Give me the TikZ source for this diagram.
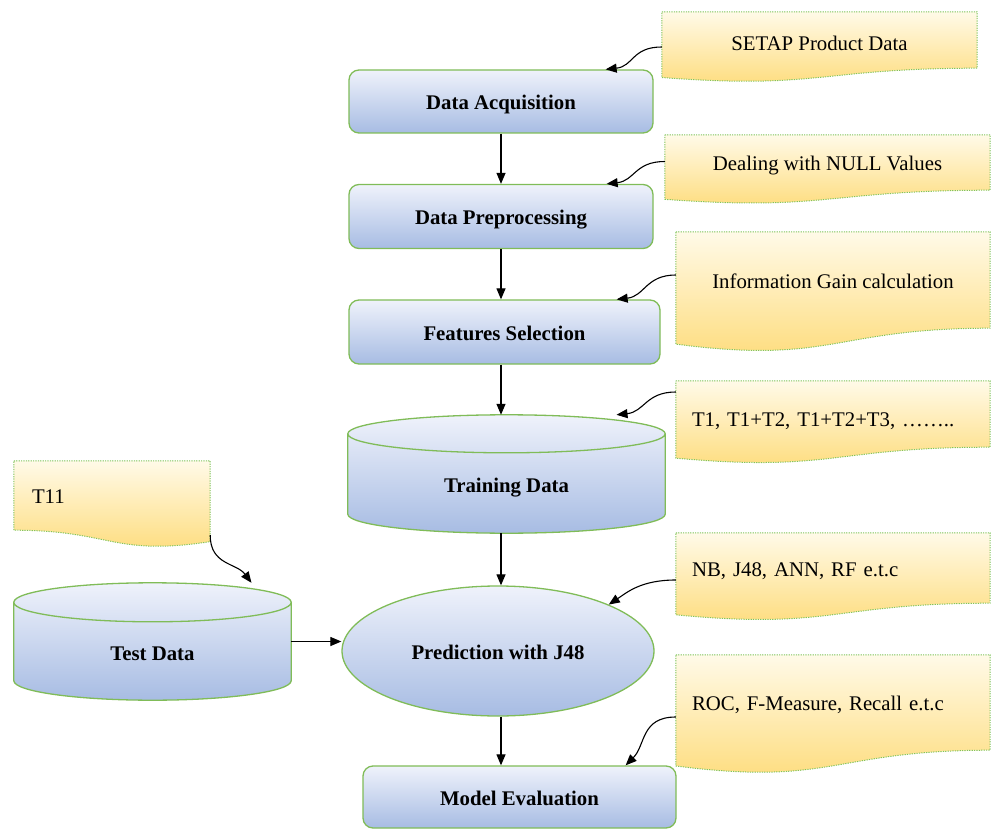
\documentclass[tikz,border=0pt]{standalone}
\usepackage{fontspec}
\setmainfont{Liberation Serif}
\usetikzlibrary{positioning}
\usetikzlibrary{shapes.geometric}
\usetikzlibrary{arrows.meta}
\usetikzlibrary{calc}
\usetikzlibrary{backgrounds}
\definecolor{boxtop}{RGB}{239,242,251}
\definecolor{boxbot}{RGB}{167,188,227}
\definecolor{boxline}{RGB}{128,188,88}
\definecolor{doctop}{RGB}{255,250,232}
\definecolor{docbot}{RGB}{254,219,120}
\definecolor{docline}{RGB}{128,196,92}
\newcommand{\nodefont}{\fontsize{20.8pt}{25pt}\selectfont}
\tikzset{
  procbox/.style={rectangle, rounded corners=10pt, draw=boxline, line width=1.3pt,
    top color=boxtop, bottom color=boxbot, font=\nodefont\bfseries, inner sep=0pt,
    text height=21pt, text depth=4.5pt},
  datastore/.style={rectangle, font=\nodefont\bfseries, inner sep=0pt,
    text height=40.5pt, text depth=4.5pt},
  drumshape/.style={draw=boxline, line width=1.3pt, top color=boxtop, bottom color=boxbot},
  docnote/.style={rectangle, inner sep=0pt, align=center, font=\nodefont,
    text height=21pt, text depth=4.5pt},
  docshape/.style={draw=docline, line width=1pt, dash pattern=on 1.2pt off 1.2pt,
    top color=doctop, bottom color=docbot},
  flowline/.style={->, line width=1.2pt},
  curveline/.style={->, line width=1.1pt},
}
\newcommand{\docwave}[1]{%
  \begin{pgfonlayer}{background}
  \path[docshape] let \p1=(#1.north west), \p2=(#1.south east), \n1={\y1-\y2} in
    (\p1) -- (\x2,\y1) -- (\p2)
    .. controls ({(\x1+\x2)/2},\y2) and ({(\x1+\x2)/2},{\y2-0.38*\n1})
    .. (\x1,{\y2-0.165*\n1}) -- cycle;
  \end{pgfonlayer}}
\newcommand{\docwaveflip}[1]{%
  \begin{pgfonlayer}{background}
  \path[docshape] let \p1=(#1.north west), \p2=(#1.south east), \n1={\y1-\y2} in
    (\p1) -- (\x2,\y1) -- (\x2,{\y2-0.165*\n1})
    .. controls ({(\x1+\x2)/2},{\y2-0.38*\n1}) and ({(\x1+\x2)/2},\y2)
    .. (\x1,\y2) -- cycle;
  \end{pgfonlayer}}
\newcommand{\drum}[2]{%
  \begin{pgfonlayer}{background}
  \path[drumshape] let \p1=(#1.north west), \p2=(#1.south east), \n1={(\x2-\x1)/2} in
    (\x1,{\y1-#2pt}) -- (\x1,{\y2+#2pt})
    arc[start angle=180, end angle=360, x radius=\n1, y radius=#2pt]
    -- (\x2,{\y1-#2pt})
    arc[start angle=0, end angle=180, x radius=\n1, y radius=#2pt] -- cycle
    ({\x1+\n1},{\y1-#2pt}) ellipse [x radius=\n1, y radius=#2pt];
  \end{pgfonlayer}}

\begin{document}
\begin{tikzpicture}[x=1pt, y=-1pt, >={Triangle[length=11pt,width=9pt]}]
  \useasboundingbox (0,0) rectangle (991,829);

  \node (da) [procbox, minimum width=304pt, minimum height=63pt] at (501,101.5) {Data Acquisition};
  \node (dp) [procbox, minimum width=304pt, minimum height=64pt] at (501,216.5) {Data Preprocessing};
  \node (fs) [procbox, minimum width=311pt, minimum height=64pt] at (504.5,332) {Features Selection};
  \node (td) [datastore, minimum width=317pt, minimum height=118pt] at (506.5,474) {Training Data};
  \node (test) [datastore, text height=41.5pt, minimum width=277pt, minimum height=117pt] at (152.5,641.5) {Test Data};
  \node (pred) [ellipse, draw=boxline, line width=1.3pt, top color=boxtop, bottom color=boxbot,
    font=\nodefont\bfseries, text height=21pt, text depth=4.5pt, inner sep=0pt,
    minimum width=312pt, minimum height=130pt] at (498,651) {Prediction with J48};
  \node (me) [procbox, minimum width=313pt, minimum height=62pt] at (519.5,797) {Model Evaluation};

  \node (setap) [docnote, text height=25pt, minimum width=315pt, minimum height=56pt] at (819.5,40) {SETAP Product Data};
  \node (dealing) [docnote, minimum width=325pt, minimum height=55pt] at (827.5,162.5) {Dealing with NULL Values};
  \node (info) [docnote, minimum width=314pt, minimum height=96pt] at (833,280) {Information Gain calculation};
  \node (tone) [docnote, align=left, text width=282pt, text height=30pt, minimum width=314pt, minimum height=66pt] at (833,414) {T1, T1+T2, T1+T2+T3, ……..};
  \node (nb) [docnote, align=left, text width=282pt, minimum width=314pt, minimum height=70pt] at (833,568) {NB, J48, ANN, RF e.t.c};
  \node (roc) [docnote, align=left, text width=282pt, minimum width=314pt, minimum height=95pt] at (833,702.5) {ROC, F-Measure, Recall e.t.c};
  \node (t11) [docnote, align=left, text width=160pt, minimum width=196pt, minimum height=69pt] at (112,495.5) {T11};

  \drum{td}{19}
  \drum{test}{19.5}
  \docwave{setap}
  \docwave{dealing}
  \docwave{info}
  \docwave{tone}
  \docwave{nb}
  \docwave{roc}
  \docwaveflip{t11}

  \draw[flowline] (da) -- (dp);
  \draw[flowline] (dp) -- (dp |- fs.north);
  \draw[flowline] (fs.south -| dp) -- (dp |- td.north);
  \draw[flowline] (td.south -| dp) -- (dp |- pred.north);
  \draw[flowline] (pred.south -| dp) -- (dp |- me.north);
  \draw[flowline] (test) -- (test -| pred.west);

  \draw[curveline] ([yshift=-7pt]setap.west) .. controls +(-30,0) and +(28,-3) .. ([xshift=-48pt]da.north east);
  \draw[curveline] ([yshift=1pt]dealing.west) .. controls +(-30,0) and +(28,-3) .. ([xshift=-47pt]dp.north east);
  \draw[curveline] ([yshift=5pt]info.west) .. controls +(-30,0) and +(28,-3) .. ([xshift=-44pt]fs.north east);
  \draw[curveline] ([yshift=22pt]tone.west) .. controls +(-30,0) and +(28,-3) .. ([xshift=110pt]td.north);
  \draw[curveline] ([yshift=-12pt]nb.west) .. controls +(-35,0) and +(18,-12) .. (pred.north east);
  \draw[curveline] ([yshift=-14.5pt]roc.west) .. controls +(-35,0) and +(20,-20) .. ([xshift=-51pt]me.north east);
  \draw[curveline] ([yshift=-5pt]t11.south east) .. controls +(0,30) and +(-15,-20) .. ([xshift=99pt]test.north);
\end{tikzpicture}
\end{document}
